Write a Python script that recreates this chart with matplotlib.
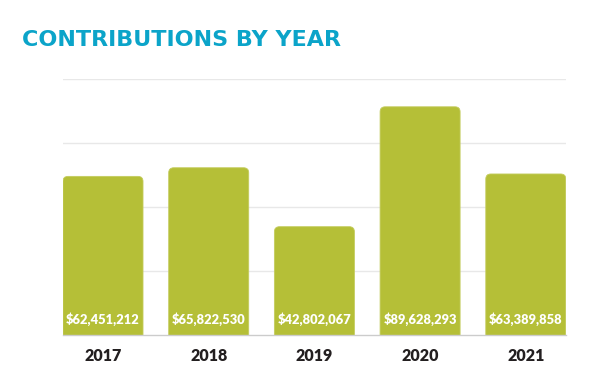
import matplotlib
matplotlib.use("Agg")
import matplotlib.pyplot as plt
from matplotlib.patches import FancyBboxPatch

years = ["2017", "2018", "2019", "2020", "2021"]
amounts = [62451212, 65822530, 42802067, 89628293, 63389858]
grid_ticks = [25e6, 50e6, 75e6, 100e6]

BAR = "#b5bf37"
TITLE = "#0ba4c9"

fig = plt.figure(figsize=(6, 3.7), dpi=100)
ax = fig.add_axes([0.105, 0.0946, 0.838, 0.692])

x = list(range(len(years)))
bars = ax.bar(x, amounts, width=0.757, color=BAR)

# swap the plain bars for ones with rounded tops
x_per_px = 4.757 / (0.838 * 600)
y_per_px = 100e6 / (0.692 * 370)
for b in bars:
    x0, w, h = b.get_x(), b.get_width(), b.get_height()
    b.remove()
    p = FancyBboxPatch((x0, -20e6), w, h + 20e6 - 0.5e6,
                       boxstyle="round,pad=0,rounding_size=%f" % (5 * x_per_px),
                       mutation_aspect=y_per_px / x_per_px,
                       facecolor=BAR, edgecolor="#c4cc5e", linewidth=0.6, zorder=2)
    ax.add_patch(p)
    p.set_clip_path(ax.patch)

for xi, v in zip(x, amounts):
    ax.text(xi, 6.2e6, "${:,}".format(v), ha="center", va="center",
            color="white", fontsize=9.3, fontweight="heavy", family="Lato", zorder=3)

ax.set_xlim(-0.3785, 4.3785)
ax.set_ylim(0, 100e6)
ax.set_yticks(grid_ticks)
ax.yaxis.grid(True, color="#e8e8e8", linewidth=1)
ax.set_axisbelow(True)
ax.tick_params(axis="y", left=False, labelleft=False)
ax.tick_params(axis="x", bottom=False, pad=6)
ax.set_xticks(x)
ax.set_xticklabels(years, fontsize=11.5, fontweight="heavy", family="Lato", color="#231f20")
for s in ["top", "right", "left"]:
    ax.spines[s].set_visible(False)
ax.spines["bottom"].set_color("#cccccc")
ax.spines["bottom"].set_linewidth(1)

fig.text(0.037, 0.892, "CONTRIBUTIONS BY YEAR", ha="left", va="center",
         fontsize=16, fontweight="bold", color=TITLE)

fig.savefig("out.png", dpi=100, facecolor="white")
